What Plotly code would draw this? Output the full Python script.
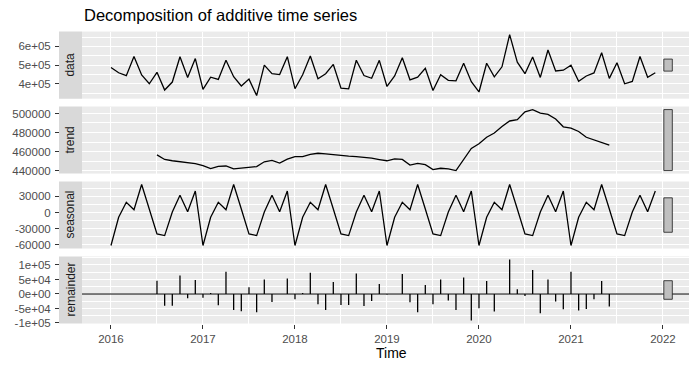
import plotly.graph_objects as go

# ---- series (monthly, starting January 2016) ----
start_year = 2016
frequency = 12

data = [
    487600, 459900, 444400, 546300, 447800, 401200,
    462150, 367650, 410300, 545250, 434800, 535200,
    371000, 436400, 424550, 526400, 438800, 389500,
    426000, 338200, 500550, 455200, 449900, 545700,
    374900, 449100, 549300, 427800, 454600, 504050,
    377700, 374400, 526600, 444900, 430500, 525900,
    386800, 442800, 539300, 422200, 436600, 483600,
    365600, 449700, 419800, 417100, 510700, 411900,
    357500, 510600, 437800, 491600, 663000, 516000,
    454800, 543400, 435000, 581300, 469400, 473400,
    499700, 415000, 442600, 458900, 566100, 429800,
    513500, 401200, 413300, 546300, 435800, 459900,
]

trend = [None] * 6 + [
    456450, 451650, 450300, 449250, 448200, 447200,
    445100, 442000, 444450, 444800, 441700, 442400,
    443100, 444100, 449250, 450600, 447900, 452000,
    454700, 454700, 457100, 458200, 457500, 456450,
    455400, 455100, 454700, 454000, 453000, 451600,
    450300, 452300, 451700, 445800, 447500, 446200,
    441000, 442400, 441700, 440000, 452000, 463300,
    468100, 475000, 479400, 486300, 492100, 493500,
    501700, 504100, 500300, 499000, 494200, 486000,
    484600, 481100, 475000, 472200, 469500, 466700,
] + [None] * 6

# seasonal figure, Jan..Dec, repeated for each year
seasonal_figure = [-61500, -9000, 19000, 5000, 52000, 6500,
                   -40000, -43000, 1000, 32000, 1500, 40000]
seasonal = seasonal_figure * 6

remainder = [None] * 6 + [
    45700, -41000, -41000, 64000, -14900, 48000,
    -12600, 3400, -38900, 76600, -54900, -59400,
    22900, -62900, 50300, -27400, 500, 53700,
    -18300, 3400, 73200, -35400, -54900, 41100,
    -37700, -37700, 70900, -41100, -24000, 34300,
    -2000, -500, 68600, -28600, -62900, 30900,
    -35400, 50300, -22900, -54900, 57200, -91400,
    -49100, 44600, -60600, 300, 118900, 16000,
    -6900, 82300, -66300, 50300, -26300, -52600,
    76600, -57100, -51400, -18300, 44600, -43400,
] + [None] * 6

# ---- axis labels ----
part_names = ["data", "trend", "seasonal", "remainder"]
x_tick_vals = [2016, 2017, 2018, 2019, 2020, 2021, 2022]
x_tick_text = ["2016", "2017", "2018", "2019", "2020", "2021", "2022"]
x_minor_vals = [2015.5, 2016.5, 2017.5, 2018.5, 2019.5, 2020.5, 2021.5, 2022.5]

y_ticks = {
    "data": ([400000, 500000, 600000], ["4e+05", "5e+05", "6e+05"],
             [350000, 450000, 550000, 650000]),
    "trend": ([440000, 460000, 480000, 500000],
              ["440000", "460000", "480000", "500000"],
              [450000, 470000, 490000]),
    "seasonal": ([-60000, -30000, 0, 30000],
                 ["-60000", "-30000", "0", "30000"],
                 [-75000, -45000, -15000, 15000, 45000]),
    "remainder": ([-100000, -50000, 0, 50000, 100000],
                  ["-1e+05", "-5e+04", "0e+00", "5e+04", "1e+05"],
                  [-75000, -25000, 25000, 75000, 125000]),
}

title_text = "Decomposition of additive time series"
x_title = "Time"

# ---- geometry ----
W, H = 689, 367
FONT = "Liberation Sans, Arial, Helvetica, sans-serif"
BG = "#EBEBEB"
STRIP = "#D9D9D9"


def px_x(p):
    return p / W


def px_y(p):
    return 1 - p / H


panel_top = [32, 108, 184, 260]
panel_bot = [100, 176, 252, 328]
panel_left, panel_right = 82, 689
strip_left = 59
x_range = [2015.685, 2015.685 + (panel_right - panel_left) / 92.0]

time = [start_year + i / frequency for i in range(len(data))]
series = {"data": data, "trend": trend, "seasonal": seasonal,
          "remainder": remainder}


def finite(v):
    return [a for a in v if a is not None]


# range bars: same data-unit length in every panel (smallest range)
spans = {k: max(finite(v)) - min(finite(v)) for k, v in series.items()}
bar_len = min(spans.values())
t_span = time[-1] - time[0]
bar_w = t_span / 64
bar_x0 = time[-1] + bar_w
bar_x1 = time[-1] + 2 * bar_w

fig = go.Figure()
layout = dict(
    width=W, height=H,
    margin=dict(l=0, r=0, t=0, b=0),
    paper_bgcolor="white",
    plot_bgcolor=BG,
    showlegend=False,
    font=dict(family=FONT),
)
shapes = []
annotations = []

for i, name in enumerate(part_names):
    k = "" if i == 0 else str(i + 1)
    xa, ya = "x" + k, "y" + k
    vals = series[name]
    lo = min(finite(vals) + [0] if name == "remainder" else finite(vals))
    hi = max(finite(vals))
    mid = (min(finite(vals)) + hi) / 2
    lo = min(lo, mid - bar_len / 2)
    hi = max(hi, mid + bar_len / 2)
    pad = 0.05 * (hi - lo)

    if name == "remainder":
        sx, sy = [], []
        for t, r in zip(time, vals):
            if r is None:
                continue
            sx += [t, t, None]
            sy += [0, r, None]
        fig.add_trace(go.Scatter(x=sx, y=sy, mode="lines",
                                 line=dict(color="black", width=1.3),
                                 xaxis=xa, yaxis=ya, hoverinfo="skip"))
        shapes.append(dict(type="line", xref=xa + " domain", yref=ya,
                           x0=0, x1=1, y0=0, y1=0,
                           line=dict(color="black", width=1.1)))
    else:
        fig.add_trace(go.Scatter(x=time, y=vals, mode="lines",
                                 line=dict(color="black", width=1.3),
                                 xaxis=xa, yaxis=ya))

    shapes.append(dict(type="rect", xref=xa, yref=ya,
                       x0=bar_x0, x1=bar_x1,
                       y0=mid - bar_len / 2, y1=mid + bar_len / 2,
                       fillcolor="#BFBFBF",
                       line=dict(color="#1A1A1A", width=0.8)))

    dom = [px_y(panel_bot[i]), px_y(panel_top[i])]
    last = i == len(part_names) - 1
    layout["xaxis" + k] = dict(
        domain=[px_x(panel_left), px_x(panel_right)],
        anchor=ya, range=x_range,
        tickmode="array", tickvals=x_tick_vals, ticktext=x_tick_text,
        showticklabels=last,
        ticks="outside" if last else "", ticklen=4, tickwidth=1.1,
        tickcolor="#333333", ticklabelstandoff=1,
        tickfont=dict(size=11.5, color="#4D4D4D", family=FONT),
        showgrid=True, gridcolor="white", gridwidth=1.3,
        minor=dict(tickmode="array", tickvals=x_minor_vals, showgrid=True,
                   gridcolor="white", gridwidth=0.6, ticks=""),
        zeroline=False, showline=False,
    )
    if i > 0:
        layout["xaxis" + k]["matches"] = "x"

    tv, tt, mv = y_ticks[name]
    layout["yaxis" + k] = dict(
        domain=dom, anchor="free", position=px_x(strip_left),
        range=[lo - pad, hi + pad],
        tickmode="array", tickvals=tv, ticktext=tt,
        ticks="outside", ticklen=4, tickwidth=1.1, tickcolor="#333333",
        ticklabelstandoff=2,
        tickfont=dict(size=11.5, color="#4D4D4D", family=FONT),
        showgrid=True, gridcolor="white", gridwidth=1.3,
        minor=dict(tickmode="array", tickvals=mv, showgrid=True,
                   gridcolor="white", gridwidth=0.6, ticks=""),
        zeroline=False, showline=False,
    )

    # facet strip on the left of each panel
    shapes.append(dict(type="rect", xref="paper", yref="paper",
                       x0=px_x(strip_left), x1=px_x(panel_left),
                       y0=dom[0], y1=dom[1], fillcolor=STRIP,
                       line=dict(width=0), layer="below"))
    annotations.append(dict(text=name, xref="paper", yref="paper",
                            x=px_x((strip_left + panel_left) / 2),
                            y=(dom[0] + dom[1]) / 2,
                            xanchor="center", yanchor="middle",
                            textangle=-90, showarrow=False,
                            font=dict(size=12, color="#1A1A1A", family=FONT)))

annotations.append(dict(text=title_text, xref="paper", yref="paper",
                        x=px_x(panel_left), y=px_y(15),
                        xanchor="left", yanchor="middle", showarrow=False,
                        font=dict(size=16.5, color="black", family=FONT)))
annotations.append(dict(text=x_title, xref="paper", yref="paper",
                        x=px_x(391.5), y=px_y(367),
                        xanchor="center", yanchor="bottom", showarrow=False,
                        borderpad=0,
                        font=dict(size=14, color="black", family=FONT)))

layout["shapes"] = shapes
layout["annotations"] = annotations
fig.update_layout(**layout)

fig.write_html("out.html")
